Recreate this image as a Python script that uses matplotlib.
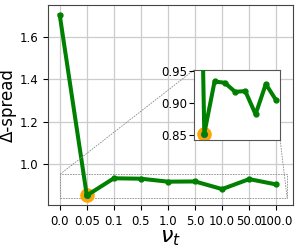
import matplotlib
matplotlib.use("Agg")
import matplotlib.pyplot as plt
from mpl_toolkits.axes_grid1.inset_locator import mark_inset
import numpy as np

NU_LABELS = ["0.0", "0.05", "0.1", "0.5", "1.0", "5.0", "10.0", "50.0", "100.0"]
DELTA_SPREAD = [1.702, 0.852, 0.933, 0.931, 0.917, 0.918, 0.882, 0.929, 0.904]
BEST_IDX = 1

x = np.arange(len(NU_LABELS))

fig = plt.figure(figsize=(2.99, 2.47), dpi=100)
ax = fig.add_axes([0.16, 0.17, 0.82, 0.81])


def draw(a):
    a.scatter(x[BEST_IDX], DELTA_SPREAD[BEST_IDX], s=90, color="#ffa500", zorder=2)
    a.scatter(x[BEST_IDX], DELTA_SPREAD[BEST_IDX], s=18, color="#1f77b4", zorder=3)
    a.plot(x, DELTA_SPREAD, color="green", lw=2.9, marker="o", ms=3.5, zorder=4)


draw(ax)
ax.set_xticks(x)
ax.set_xticklabels(NU_LABELS, fontsize=8.5)
ax.set_yticks([1.0, 1.2, 1.4, 1.6])
ax.tick_params(axis="y", labelsize=8.5)
ax.set_xlim(-0.44, 8.62)
ax.set_ylim(0.807, 1.75)
ax.grid(color="#cccccc", lw=0.9)
ax.set_axisbelow(True)
ax.set_xlabel(r"$\nu_t$", fontsize=16, labelpad=0)
ax.set_ylabel("Δ-spread", fontsize=12, labelpad=2)
for s in ax.spines.values():
    s.set_color("#444444")

# zoomed inset
axins = fig.add_axes([0.649, 0.433, 0.288, 0.284])
draw(axins)
axins.set_xlim(0.0, 8.4)
axins.set_ylim(0.842, 0.951)
axins.set_xticks([])
axins.set_yticks([0.85, 0.90, 0.95])
axins.tick_params(axis="y", labelsize=8.5, pad=1.5)
for s in axins.spines.values():
    s.set_color("#555555")

mark_inset(ax, axins, loc1=2, loc2=4, fc="none", ec="0.55", ls=(0, (2, 1.2)), lw=0.6)

fig.savefig("out.png", dpi=100)
